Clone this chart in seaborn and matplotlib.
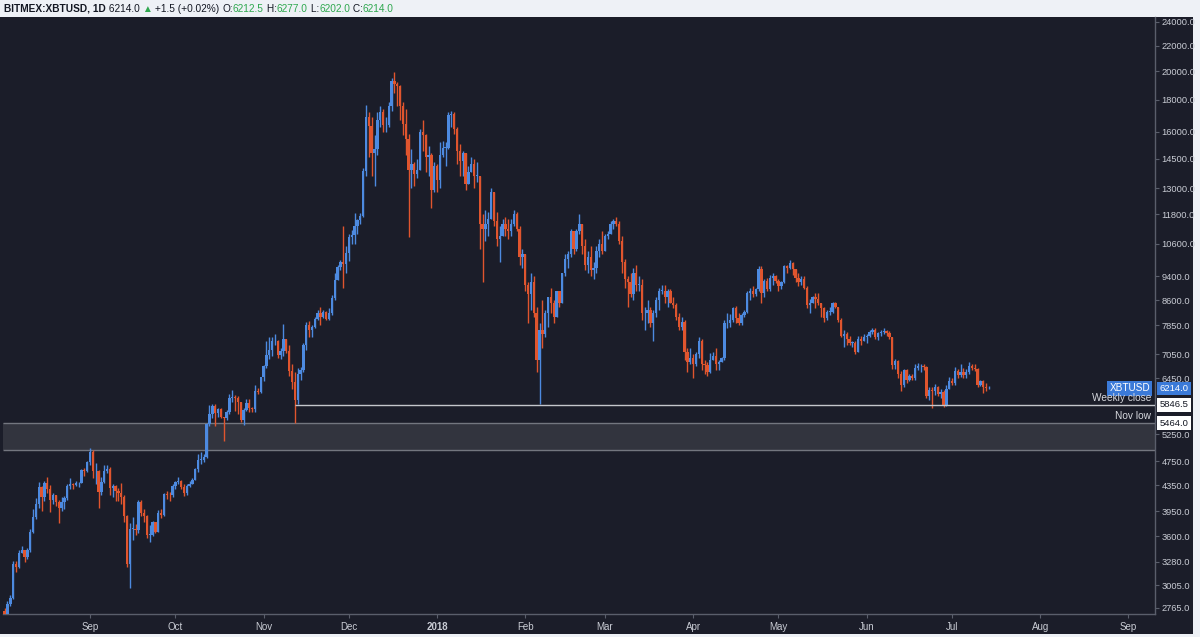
import numpy as np
import pandas as pd
import matplotlib
matplotlib.use("Agg")
import matplotlib.pyplot as plt
import matplotlib.dates as mdates
from matplotlib.patches import Rectangle
import seaborn as sns

# daily candles, BITMEX:XBTUSD, 2 Aug 2017 - 14 Jul 2018
aug17_close = [2700, 2810, 2870, 3250, 3220, 3390, 3430, 3340, 3420, 3660, 3860, 4060, 4320, 4170, 4380,
               4280, 4110, 4190, 4080, 4000, 4090, 4150, 4330, 4370, 4350, 4380, 4380, 4600, 4590, 4740]
aug17_high = [2760, 2840, 2900, 3290, 3290, 3420, 3480, 3430, 3450, 3700, 3980, 4150, 4400, 4330, 4410,
              4480, 4350, 4230, 4200, 4120, 4170, 4180, 4360, 4470, 4390, 4420, 4400, 4620, 4640, 4760]
aug17_low = [2650, 2680, 2780, 2860, 3160, 3200, 3380, 3280, 3310, 3400, 3650, 3840, 4000, 3960, 4100,
             4220, 3940, 4050, 4030, 3780, 3950, 3980, 4110, 4290, 4280, 4330, 4320, 4380, 4500, 4560]

sep17_close = [4920, 4580, 4590, 4240, 4400, 4590, 4620, 4310, 4330, 4250, 4220, 4170, 3880, 3250, 3700,
               3700, 3680, 4090, 3920, 3880, 3620, 3620, 3790, 3660, 3930, 3890, 4210, 4200, 4190, 4340]
sep17_high = [4980, 4950, 4720, 4600, 4480, 4680, 4690, 4650, 4370, 4350, 4300, 4380, 4200, 3900, 3780,
              3870, 3770, 4120, 4120, 3990, 3900, 3750, 3810, 3800, 3970, 3980, 4230, 4250, 4240, 4370]
sep17_low = [4690, 4460, 4370, 4000, 4200, 4390, 4550, 4200, 4160, 4100, 4100, 4060, 3800, 3220, 2980,
             3550, 3620, 3650, 3880, 3800, 3580, 3520, 3600, 3640, 3660, 3850, 3880, 4140, 4100, 4160]

oct17_close = [4400, 4410, 4320, 4230, 4330, 4370, 4440, 4610, 4780, 4780, 4830, 5450, 5650, 5830, 5680, 5750,
               5600, 5570, 5700, 6000, 6010, 5990, 5900, 5520, 5740, 5890, 5770, 5750, 6150, 6130, 6470]
oct17_high = [4420, 4480, 4440, 4360, 4360, 4410, 4460, 4630, 4880, 4920, 4880, 5470, 5850, 5860, 5860, 5780,
              5780, 5600, 5730, 6080, 6180, 6060, 6040, 5900, 5770, 5980, 5980, 5800, 6300, 6230, 6470]
oct17_low = [4290, 4360, 4280, 4180, 4200, 4320, 4360, 4430, 4570, 4700, 4730, 4810, 5400, 5580, 5400, 5600,
             5570, 5120, 5530, 5650, 5900, 5720, 5650, 5480, 5420, 5720, 5700, 5700, 5700, 6080, 6100]

nov17_close = [6750, 7030, 7160, 7390, 7410, 7020, 7140, 7460, 7140, 6620, 6360, 5950, 6560, 6640, 7300,
               7850, 7700, 7790, 8040, 8200, 8100, 8250, 8040, 8210, 8660, 9280, 9720, 9890, 9820, 10230]
nov17_high = [6780, 7400, 7500, 7500, 7600, 7440, 7200, 7880, 7450, 7300, 6800, 6600, 6700, 6720, 7340,
              7950, 7980, 7850, 8100, 8300, 8380, 8300, 8270, 8350, 8780, 9520, 9780, 9990, 11300, 10500]
nov17_low = [6380, 6700, 6930, 7000, 7300, 6960, 6930, 7000, 7070, 6500, 6200, 5464, 5860, 6420, 6600,
             7170, 7500, 7500, 7760, 8000, 7850, 8050, 8000, 8000, 8150, 8620, 9280, 9600, 9000, 9500]

dec17_close = [10880, 10950, 11290, 11570, 11730, 13860, 16900, 16370, 14820, 15000, 16700, 17200, 16400, 16400,
               17600, 19300, 19100, 18960, 17600, 16500, 15600, 13900, 14200, 13700, 13900, 16000, 15800,
               14600, 14700, 12900, 14100]
dec17_high = [11000, 11150, 11850, 11600, 11850, 14000, 17700, 17200, 16900, 15800, 17200, 17600, 17400, 16900,
              17900, 19500, 19960, 19200, 19000, 17900, 17400, 15900, 15000, 14300, 14500, 16200, 16700,
              15900, 15200, 14800, 14300]
dec17_low = [9950, 10600, 10600, 11000, 11400, 11700, 13600, 14600, 13600, 13100, 14700, 16300, 16000, 16000,
             16300, 17300, 18500, 17600, 16700, 15800, 14700, 10850, 13000, 13100, 13500, 13900, 14900,
             13800, 13600, 12100, 12800]

jan18_close = [13400, 14700, 15100, 15100, 17000, 17100, 16200, 14900, 14400, 14800, 13200, 13800, 14200, 13600,
               13600, 11400, 11200, 11400, 11600, 12800, 11500, 10800, 10900, 11400, 11200, 11100, 11400,
               11800, 11200, 10100, 10200]
jan18_high = [14200, 15400, 15500, 15400, 17200, 17300, 17200, 16300, 15300, 14900, 14800, 14100, 14600, 14500,
              14300, 13600, 11800, 12000, 11900, 13000, 12800, 11900, 11300, 11600, 11700, 11600, 11600,
              12000, 11900, 11300, 10400]
jan18_low = [12800, 13000, 14600, 14100, 15000, 16300, 15900, 14200, 13600, 13600, 12900, 13300, 13800, 13000,
             13300, 10400, 9200, 10700, 10900, 11600, 11300, 10500, 9900, 10900, 10900, 10800, 10900,
             11300, 11100, 9800, 9700]

feb18_close = [9100, 8800, 9200, 8200, 6900, 7700, 7600, 8200, 8700, 8500, 8100, 8900, 8500, 9500,
               10000, 10200, 11100, 10400, 11100, 11400, 10500, 9800, 10100, 9600, 9700, 10300, 10600, 10300]
feb18_high = [10200, 9200, 9500, 9400, 8400, 7900, 8600, 8300, 8700, 9000, 8600, 8900, 8900, 9500,
              10200, 10300, 11200, 11100, 11200, 11800, 11300, 10800, 10300, 10500, 9900, 10500, 10800, 11100]
feb18_low = [8900, 7900, 8300, 8100, 6600, 5870, 7200, 7500, 7800, 8200, 7900, 8100, 8400, 8500,
             9400, 9700, 10100, 10200, 10300, 11000, 10200, 9600, 9500, 9400, 9300, 9500, 10100, 10200]

mar18_close = [10900, 11000, 11400, 11500, 11400, 10700, 9900, 9300, 9200, 8800, 9500, 9100, 9100, 8200, 8200,
               8300, 7900, 8200, 8600, 8900, 8900, 8700, 8900, 8500, 8450, 8100, 7800, 7950, 7100, 6850, 6950]
mar18_high = [11000, 11100, 11500, 11600, 11700, 11500, 10900, 10000, 9400, 9500, 9700, 9800, 9400, 9300, 8400,
              8600, 8400, 8300, 8700, 9000, 9100, 9100, 8950, 8950, 8700, 8500, 8200, 8100, 8000, 7200, 7200]
mar18_low = [10300, 10800, 11000, 11200, 11300, 10600, 9500, 9000, 8400, 8700, 8600, 8900, 8900, 8000, 7700,
             7900, 7800, 7400, 8100, 8300, 8800, 8500, 8400, 8500, 8350, 8000, 7700, 7700, 6900, 6600, 6800]

apr18_close = [6800, 7050, 7400, 6800, 6780, 6600, 6900, 7000, 6800, 6850, 6950, 7900, 7900, 8000, 8350,
               8050, 7900, 8150, 8250, 8850, 8900, 8800, 8950, 9650, 8850, 9250, 8950, 9350, 9400, 9250]
apr18_high = [7050, 7100, 7500, 7450, 6900, 6850, 7080, 7100, 7200, 6900, 6980, 8000, 8200, 8180, 8400,
              8420, 8200, 8200, 8300, 8900, 9000, 9050, 9000, 9750, 9750, 9300, 9350, 9450, 9500, 9450]
apr18_low = [6450, 6750, 6950, 6650, 6550, 6500, 6580, 6900, 6650, 6650, 6850, 6900, 7750, 7800, 7950,
             7900, 7850, 7850, 8100, 8200, 8600, 8700, 8750, 8900, 8500, 8700, 8900, 8900, 9100, 9150]

may18_close = [9050, 9200, 9750, 9700, 9850, 9650, 9350, 9200, 9300, 9000, 8450, 8500, 8700, 8650, 8500, 8350,
               8050, 8250, 8250, 8500, 8400, 8000, 7550, 7600, 7450, 7350, 7350, 7100, 7450, 7400, 7500]
may18_high = [9300, 9250, 9800, 9780, 9960, 9900, 9650, 9500, 9400, 9400, 9050, 8650, 8750, 8850, 8850, 8500,
              8400, 8300, 8400, 8550, 8550, 8400, 8050, 7700, 7650, 7550, 7400, 7400, 7550, 7550, 7600]
may18_low = [8900, 8950, 9150, 9500, 9650, 9450, 9200, 9050, 9100, 8950, 8350, 8200, 8500, 8350, 8450, 8100,
             7950, 8000, 8150, 8200, 8350, 7950, 7500, 7250, 7300, 7300, 7250, 7050, 7100, 7300, 7400]

jun18_close = [7530, 7640, 7720, 7500, 7630, 7660, 7690, 7620, 7510, 6780, 6880, 6550, 6300, 6650, 6400,
               6500, 6460, 6700, 6740, 6750, 6720, 6050, 6170, 6150, 6250, 6080, 6130, 5850, 6200, 6390]
jun18_high = [7600, 7700, 7760, 7760, 7650, 7700, 7760, 7700, 7680, 7500, 6920, 6900, 6630, 6680, 6680,
              6550, 6560, 6800, 6830, 6800, 6790, 6750, 6250, 6250, 6320, 6280, 6200, 6180, 6300, 6480]
jun18_low = [7350, 7500, 7600, 7450, 7420, 7550, 7600, 7550, 7450, 6680, 6670, 6450, 6150, 6250, 6350,
             6380, 6400, 6400, 6650, 6600, 6650, 6000, 5950, 5780, 6060, 6050, 6000, 5800, 5820, 6200]

jul18_close = [6350, 6620, 6520, 6600, 6530, 6600, 6760, 6710, 6670, 6300, 6390, 6250, 6212.5, 6214]
jul18_high = [6450, 6720, 6680, 6800, 6700, 6680, 6850, 6810, 6800, 6700, 6420, 6400, 6350, 6277]
jul18_low = [6300, 6300, 6450, 6480, 6450, 6450, 6550, 6650, 6630, 6250, 6280, 6120, 6150, 6202]

first_open = 2730
weekly_close = 5846.5
nov_low = 5464.0
zone_bottom = 4960
last_price = 6214.0

y_ticks = [2765, 3005, 3280, 3600, 3950, 4350, 4750, 5250, 6450, 7050, 7850, 8600, 9400,
           10600, 11800, 13000, 14500, 16000, 18000, 20000, 22000, 24000]
month_ticks = ["2017-09-01", "2017-10-01", "2017-11-01", "2017-12-01", "2018-01-01", "2018-02-01",
               "2018-03-01", "2018-04-01", "2018-05-01", "2018-06-01", "2018-07-01", "2018-08-01", "2018-09-01"]
month_labels = ["Sep", "Oct", "Nov", "Dec", "2018", "Feb", "Mar", "Apr", "May", "Jun", "Jul", "Aug", "Sep"]

months = ["aug17", "sep17", "oct17", "nov17", "dec17", "jan18", "feb18", "mar18", "apr18", "may18", "jun18", "jul18"]
g = globals()
close = np.concatenate([g[m + "_close"] for m in months]).astype(float)
high = np.concatenate([g[m + "_high"] for m in months]).astype(float)
low = np.concatenate([g[m + "_low"] for m in months]).astype(float)
dates = pd.date_range("2017-08-02", periods=len(close), freq="D")
opn = np.concatenate([[first_open], close[:-1]])
high = np.maximum(high, np.maximum(opn, close))
low = np.minimum(low, np.minimum(opn, close))
df = pd.DataFrame({"date": dates, "open": opn, "high": high, "low": low, "close": close})
df["up"] = df["close"] >= df["open"]

BG = "#1b1d29"
LIGHT = "#eef1f6"
UP = "#4d8ae0"
DOWN = "#e0552e"
TXT = "#c9ccd4"
GRID = "#5a5e6b"

sns.set_theme(style="dark", rc={"axes.facecolor": BG, "figure.facecolor": LIGHT})
plt.rcParams["font.family"] = ["Liberation Sans", "DejaVu Sans"]

W, H = 1200, 637
fig = plt.figure(figsize=(W / 100, H / 100), dpi=100)
fig.patches.append(Rectangle((0, 1 - 634 / H), 1193 / W, (634 - 17) / H, transform=fig.transFigure,
                             facecolor=BG, edgecolor="none", zorder=-5))
ax_l, ax_r, ax_t, ax_b = 3, 1155, 17, 614
ax = fig.add_axes([ax_l / W, 1 - ax_b / H, (ax_r - ax_l) / W, (ax_b - ax_t) / H])
ax.set_facecolor(BG)

x = mdates.date2num(df["date"])
cols = np.where(df["up"], UP, DOWN)
body_lo = np.minimum(df["open"], df["close"])
body_h = np.maximum(np.abs(df["close"] - df["open"]), body_lo * 0.002)
ax.vlines(x, df["low"], df["high"], colors=cols, linewidth=1.0, zorder=3)
ax.bar(x, body_h, bottom=body_lo, width=0.82, color=cols, linewidth=0, zorder=4)

ax.set_yscale("log")
ax.set_ylim(2704, 24446)
sep1 = mdates.date2num(pd.Timestamp("2017-09-01"))
px_day = 2.845
ax.set_xlim(sep1 + (ax_l - 90) / px_day, sep1 + (ax_r - 90) / px_day)
x0, x1 = ax.get_xlim()

# support zone and weekly close line
ax.axhspan(zone_bottom, nov_low, facecolor="#32343e", edgecolor="none", zorder=1)
ax.hlines([zone_bottom, nov_low], x0, x1, colors="#73767f", linewidth=1, zorder=2)
ax.hlines(weekly_close, mdates.date2num(pd.Timestamp("2017-11-12")), x1, colors="#c4c6cc",
          linewidth=1, zorder=5)

ax.yaxis.tick_right()
ax.set_yticks(y_ticks)
ax.set_yticklabels([f"{v:.1f}" for v in y_ticks])
ax.yaxis.set_minor_locator(matplotlib.ticker.NullLocator())
ax.set_xticks(mdates.date2num(pd.to_datetime(month_ticks)))
ax.set_xticklabels(month_labels)
for lab in ax.get_xticklabels():
    if lab.get_text() == "2018":
        lab.set_fontweight("bold")
ax.tick_params(axis="both", which="major", direction="out", length=3, width=0.8, color=GRID,
               labelcolor=TXT, labelsize=6.7, pad=3)
ax.tick_params(axis="y", pad=1.5)
ax.tick_params(axis="x", labelsize=7)
ax.tick_params(axis="y", right=True, left=False)
ax.tick_params(axis="x", bottom=True)
ax.grid(False)
for side in ["top", "left"]:
    ax.spines[side].set_visible(False)
for side in ["right", "bottom"]:
    ax.spines[side].set_visible(True)
    ax.spines[side].set_color(GRID)
    ax.spines[side].set_linewidth(1)

# price labels on the axis
def ax_frac(px):
    return (px - ax_l) / (ax_r - ax_l)

trans = matplotlib.transforms.blended_transform_factory(ax.transAxes, ax.transData)
ax.text(ax_frac(1174), last_price, "6214.0", transform=trans, ha="center", va="center", fontsize=6.8,
        color="white", clip_on=False, zorder=10,
        bbox=dict(boxstyle="square,pad=0.25", facecolor="#3b7ad8", edgecolor="none"))
ax.text(ax_frac(1150), last_price, "XBTUSD", transform=trans, ha="right", va="center", fontsize=7.2,
        color="white", clip_on=False, zorder=10,
        bbox=dict(boxstyle="square,pad=0.22", facecolor="#3b7ad8", edgecolor="none"))
ax.text(ax_frac(1174), weekly_close, "5846.5", transform=trans, ha="center", va="center", fontsize=6.8,
        color="#131722", clip_on=False, zorder=10,
        bbox=dict(boxstyle="square,pad=0.25", facecolor="white", edgecolor="none"))
ax.text(ax_frac(1174), nov_low, "5464.0", transform=trans, ha="center", va="center", fontsize=6.8,
        color="#131722", clip_on=False, zorder=10,
        bbox=dict(boxstyle="square,pad=0.25", facecolor="white", edgecolor="none"))
ax.annotate("Weekly close", xy=(ax_frac(1151), weekly_close), xycoords=trans, xytext=(0, 1.5),
            textcoords="offset points", ha="right", va="bottom", fontsize=7.3, color="#d6d8de", zorder=10)
ax.annotate("Nov low", xy=(ax_frac(1151), nov_low), xycoords=trans, xytext=(0, 1.5),
            textcoords="offset points", ha="right", va="bottom", fontsize=7.3, color="#d6d8de", zorder=10)

# header line
header = [("BITMEX:XBTUSD, 1D", "#131722", "bold"), (" 6214.0", "#131722", "normal"),
          (" \u25B2", "#2fa84f", "normal"), (" +1.5 (+0.02%) ", "#131722", "normal"),
          ("O:", "#131722", "normal"), ("6212.5", "#2fa84f", "normal"), (" H:", "#131722", "normal"),
          ("6277.0", "#2fa84f", "normal"), (" L:", "#131722", "normal"), ("6202.0", "#2fa84f", "normal"),
          (" C:", "#131722", "normal"), ("6214.0", "#2fa84f", "normal")]
renderer = fig.canvas.get_renderer()
xpos = 4
for txt, c, w in header:
    t = fig.text(xpos / W, 1 - 8.5 / H, txt, ha="left", va="center", fontsize=7.3, color=c, fontweight=w,
                 family=["Liberation Sans", "DejaVu Sans"])
    xpos += t.get_window_extent(renderer).width

fig.savefig("out.png", dpi=100, facecolor=LIGHT)
